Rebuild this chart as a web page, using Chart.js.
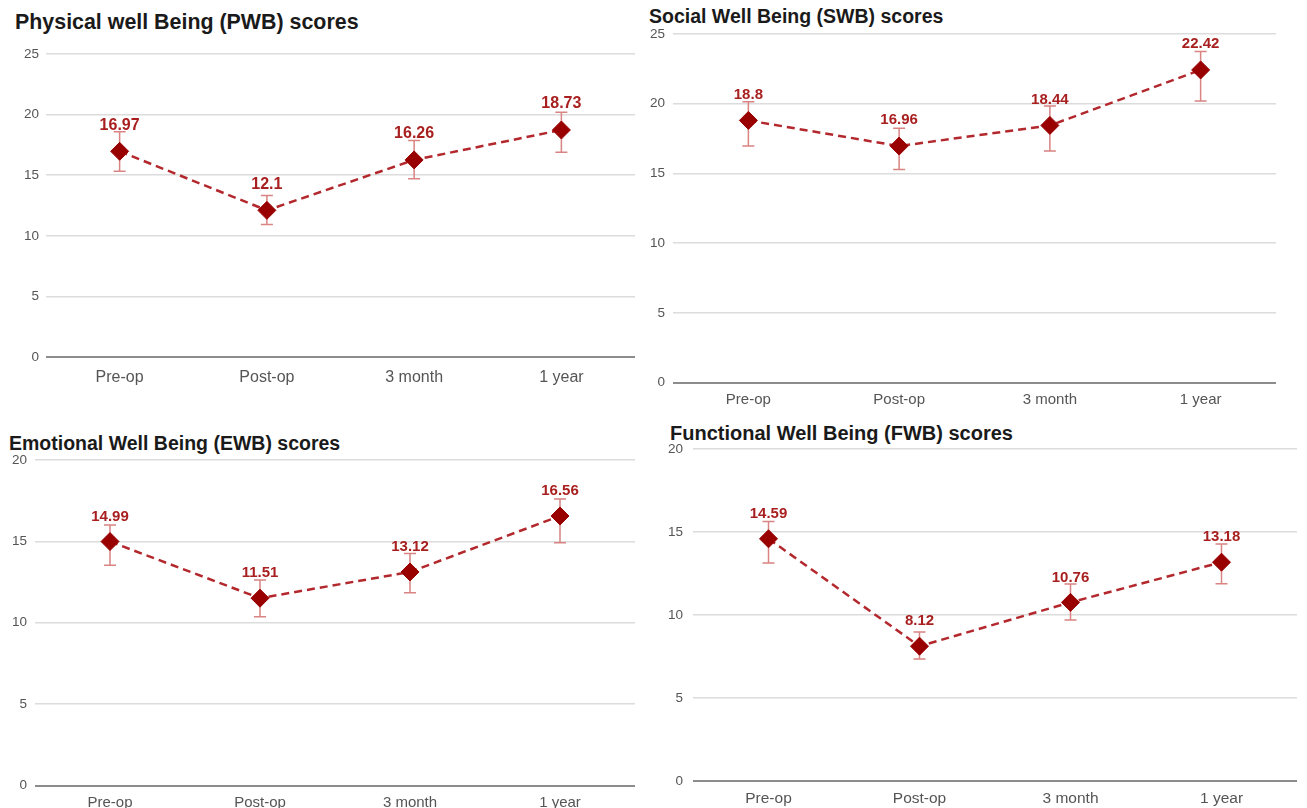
<!DOCTYPE html>
<html>
<head>
<meta charset="utf-8">
<script src="https://cdn.jsdelivr.net/npm/chart.js@4.4.0/dist/chart.umd.min.js"></script>
<style>
  body { margin: 0; width: 1307px; height: 808px; background: #fff; position: relative; overflow: hidden; font-family: "Liberation Sans", Arial, sans-serif; }
  .panel { position: absolute; }
  .title { position: absolute; font-weight: bold; color: #1a1a1a; white-space: nowrap; line-height: 1; }
</style>
</head>
<body>
<div class="title" style="left:15px;top:12px;font-size:21.4px">Physical well Being (PWB) scores</div>
<div class="title" style="left:649px;top:7px;font-size:19.5px">Social Well Being (SWB) scores</div>
<div class="title" style="left:9px;top:434px;font-size:19.5px">Emotional Well Being (EWB) scores</div>
<div class="title" style="left:670px;top:423px;font-size:20px">Functional Well Being (FWB) scores</div>

<div class="panel" style="left:0;top:0"><canvas id="pwb" width="645" height="400"></canvas></div>
<div class="panel" style="left:645px;top:0"><canvas id="swb" width="662" height="420"></canvas></div>
<div class="panel" style="left:0;top:420px"><canvas id="ewb" width="645" height="388"></canvas></div>
<div class="panel" style="left:645px;top:420px"><canvas id="fwb" width="662" height="388"></canvas></div>

<script>
// 時間點
const categories = ["Pre-op", "Post-op", "3 month", "1 year"];

// PWB
const pwbMean = [16.97, 12.1, 16.26, 18.73];
const pwbLow = [15.33, 10.93, 14.70, 16.89];
const pwbHigh = [18.58, 13.33, 17.87, 20.2];

// SWB
const swbMean = [18.8, 16.96, 18.44, 22.42];
const swbLow = [16.96, 15.28, 16.6, 20.19];
const swbHigh = [20.14, 18.23, 19.83, 23.74];

// EWB
const ewbMean = [14.99, 11.51, 13.12, 16.56];
const ewbLow = [13.53, 10.37, 11.84, 14.91];
const ewbHigh = [16.0, 12.62, 14.26, 17.6];

// FWB
const fwbMean = [14.59, 8.12, 10.76, 13.18];
const fwbLow = [13.13, 7.35, 9.7, 11.89];
const fwbHigh = [15.64, 8.98, 11.87, 14.28];

// y軸最大值
const pwbMax = 25, swbMax = 25, ewbMax = 20, fwbMax = 20;
const tickStep = 5;

// 誤差線
const errorBars = {
  id: 'errorBars',
  beforeDatasetsDraw(chart) {
    const ctx = chart.ctx;
    const x = chart.scales.x, y = chart.scales.y;
    const ds = chart.data.datasets[0];
    ctx.save();
    ctx.strokeStyle = '#d98383';
    ctx.lineWidth = 1.5;
    for (let i = 0; i < ds.errLow.length; i++) {
      const px = x.getPixelForValue(i);
      const yl = y.getPixelForValue(ds.errLow[i]);
      const yh = y.getPixelForValue(ds.errHigh[i]);
      ctx.beginPath();
      ctx.moveTo(px, yl); ctx.lineTo(px, yh);
      ctx.moveTo(px - 6, yl); ctx.lineTo(px + 6, yl);
      ctx.moveTo(px - 6, yh); ctx.lineTo(px + 6, yh);
      ctx.stroke();
    }
    ctx.restore();
  }
};

// 數值標籤
const valueLabels = {
  id: 'valueLabels',
  afterDatasetsDraw(chart) {
    const ctx = chart.ctx;
    const ds = chart.data.datasets[0];
    const meta = chart.getDatasetMeta(0);
    ctx.save();
    ctx.fillStyle = '#a81f1f';
    ctx.font = 'bold ' + ds.labelSize + 'px "Liberation Sans", Arial, sans-serif';
    ctx.textAlign = 'center';
    ctx.textBaseline = 'middle';
    meta.data.forEach((pt, i) => {
      ctx.fillText(String(ds.data[i]), pt.x, pt.y - ds.labelOffset);
    });
    ctx.restore();
  }
};

function makeChart(id, mean, low, high, yMax, box) {
  return new Chart(document.getElementById(id), {
    type: 'line',
    data: {
      labels: categories,
      datasets: [{
        data: mean,
        errLow: low,
        errHigh: high,
        labelSize: box.labelSize,
        labelOffset: box.labelOffset,
        borderColor: '#b3282d',
        borderWidth: 2.5,
        borderDash: [8, 5],
        tension: 0,
        fill: false,
        pointStyle: 'rectRot',
        pointRadius: 9,
        pointBackgroundColor: '#990000',
        pointBorderColor: '#990000',
        pointBorderWidth: 1
      }]
    },
    options: {
      responsive: false,
      animation: false,
      layout: { padding: { left: 0, top: box.top, right: box.right, bottom: box.bottom } },
      plugins: { legend: { display: false }, tooltip: { enabled: false } },
      scales: {
        x: {
          offset: true,
          grid: { display: false },
          border: { display: false },
          ticks: { color: '#555', padding: box.xPad, font: { family: '"Liberation Sans", Arial, sans-serif', size: box.xSize, lineHeight: 1 } },
          afterFit: (s) => { s.height = box.xHeight; }
        },
        y: {
          min: 0,
          max: yMax,
          border: { display: false },
          grid: {
            drawTicks: false,
            color: (c) => c.tick && c.tick.value === 0 ? '#8c8c8c' : '#dcdcdc',
            lineWidth: (c) => c.tick && c.tick.value === 0 ? 2 : 1.5
          },
          ticks: { stepSize: tickStep, color: '#555', padding: box.yPad, font: { family: '"Liberation Sans", Arial, sans-serif', size: 13.5 } },
          afterFit: (s) => { s.width = box.yWidth; }
        }
      }
    },
    plugins: [errorBars, valueLabels]
  });
}

makeChart('pwb', pwbMean, pwbLow, pwbHigh, pwbMax,
  { top: 54, right: 7, bottom: 3, yWidth: 46, xHeight: 40, yPad: 7, xPad: 4.5, xSize: 16, labelSize: 16, labelOffset: 26 });
makeChart('swb', swbMean, swbLow, swbHigh, swbMax,
  { top: 34, right: 31, bottom: 1.5, yWidth: 28, xHeight: 36, yPad: 8, xPad: 2, xSize: 15, labelSize: 15, labelOffset: 26 });
makeChart('ewb', ewbMean, ewbLow, ewbHigh, ewbMax,
  { top: 40, right: 8, bottom: 0, yWidth: 35, xHeight: 22.5, yPad: 8, xPad: 2, xSize: 15, labelSize: 15, labelOffset: 25 });
makeChart('fwb', fwbMean, fwbLow, fwbHigh, fwbMax,
  { top: 29, right: 0, bottom: 0, yWidth: 48, xHeight: 27, yPad: 10, xPad: 2, xSize: 15.5, labelSize: 15, labelOffset: 25 });
</script>
</body>
</html>
